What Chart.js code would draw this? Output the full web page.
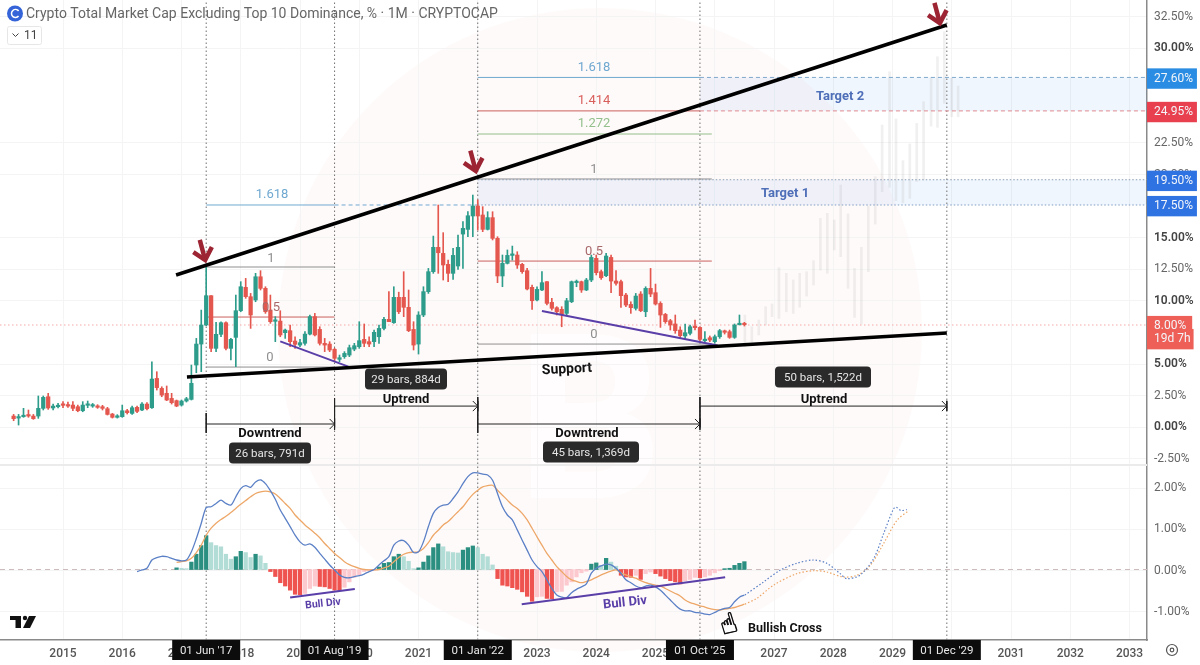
<!DOCTYPE html>
<html>
<head>
<meta charset="utf-8">
<title>Crypto Total Market Cap Excluding Top 10 Dominance</title>
<script src="https://cdn.jsdelivr.net/npm/chart.js@4"></script>
<style>
  html, body { margin: 0; padding: 0; background: #fff; }
  canvas { display: block; }
</style>
</head>
<body>
<canvas id="grafico" width="1200" height="665"></canvas>
<script>
// months are counted from Jan 2015 = 0
const firstCandleMonth = -10
const opens = [.79,.63,.74,.87,.79,.79,1.40,2.32,1.43,1.53,1.72,1.69,1.66,1.53,1.21,1.64,1.58,1.58,1.53,1.37,
  .95,.69,.74,1.21,1.00,1.48,1.27,1.74,1.45,3.77,2.98,2.59,2.19,2.01,1.66,1.98,2.11,4.83,6.49,8.00,
  10.32,6.15,7.26,8.18,6.15,7.02,9.13,10.98,10.24,9.98,11.82,10.90,9.18,8.29,8.31,7.39,7.55,6.73,6.41,6.55,
  7.28,8.66,7.65,6.55,6.49,6.07,5.28,5.49,5.62,6.09,6.28,6.86,6.68,6.68,7.07,7.73,8.45,8.18,10.19,
  10.19,9.40,7.65,6.49,8.79,10.64,12.22,14.15,13.67,12.80,12.09,12.67,15.20,15.57,16.63,17.42,16.71,15.57,16.50,14.86,
  11.88,12.88,13.51,13.54,12.80,12.30,10.98,9.98,10.77,11.43,9.79,9.37,9.24,8.92,9.84,11.35,11.43,10.77,11.56,13.28,
  12.22,11.90,13.35,11.48,11.43,10.37,9.63,9.32,10.45,9.05,10.90,10.56,9.71,8.84,8.34,8.08,7.60,7.13,7.34,7.86,
  7.81,6.76,6.99,6.68,7.07,7.52,7.47,7.02,8.02,8.13]
const highs = [.92,.92,1.40,1.27,.92,2.38,2.38,2.59,1.74,1.79,1.93,1.90,1.93,1.66,1.93,1.98,1.79,1.69,1.64,1.48,
  1.00,.90,1.66,1.32,1.58,1.58,1.85,1.85,5.09,4.30,3.11,3.17,2.59,2.06,2.06,2.27,4.83,6.94,9.18,12.56,
  10.32,8.21,8.26,8.26,6.94,10.37,11.43,11.69,10.50,12.09,12.30,11.03,10.37,8.66,9.13,7.68,8.00,7.07,6.86,7.47,
  8.79,8.92,7.86,6.94,6.68,6.15,5.62,5.89,6.41,6.55,8.26,8.08,7.07,7.60,8.00,8.60,10.64,11.03,10.60,
  12.22,10.77,8.26,9.05,11.03,12.48,15.04,17.50,15.31,13.14,14.07,15.12,16.18,16.97,18.29,17.90,17.37,16.97,16.97,14.99,
  13.54,13.94,14.25,13.80,12.88,12.48,11.16,11.03,12.22,11.43,10.11,9.45,9.45,10.11,11.48,11.56,11.48,11.69,13.54,13.54,
  12.35,13.67,13.54,12.30,11.56,10.50,9.84,10.50,10.64,11.03,12.48,11.24,9.84,8.92,8.45,8.79,7.86,8.08,8.00,8.39,
  7.86,7.47,7.13,7.21,7.65,7.60,7.60,8.08,8.79,8.21]
const lows = [.42,.08,.69,.69,.53,.61,1.27,1.32,1.27,1.43,1.45,1.48,1.21,1.13,1.13,1.45,1.48,1.40,1.27,.87,
  .63,.63,.69,.95,.92,1.06,1.21,1.27,1.40,2.85,2.32,2.01,1.74,1.53,1.58,1.90,2.06,4.22,4.30,7.94,
  5.89,5.89,7.07,6.02,5.23,4.70,9.05,10.11,7.73,9.84,10.77,8.92,8.13,6.68,7.07,6.94,6.28,6.15,6.28,6.41,
  7.21,7.13,6.41,5.89,5.89,5.09,5.09,5.36,5.49,5.96,6.15,6.28,6.28,6.28,6.55,7.60,8.26,8.13,8.90,
  8.66,7.47,6.02,5.70,8.66,10.50,12.09,12.09,11.56,11.43,11.61,12.40,12.48,14.99,14.99,15.52,15.39,15.52,14.73,11.35,
  11.03,12.83,13.14,12.48,12.09,10.77,9.24,9.90,10.72,9.58,9.18,8.79,7.86,8.79,9.77,11.03,10.58,10.72,11.43,11.96,
  11.61,11.82,10.56,11.16,9.40,9.45,8.92,9.18,9.05,8.66,10.24,9.58,7.81,8.13,7.60,7.34,6.99,6.94,7.21,7.60,
  6.68,6.68,6.68,6.55,6.94,7.28,6.94,6.94,8.00,7.92]
const closes = [.58,.74,.84,.79,.58,1.40,2.27,1.43,1.58,1.64,1.64,1.58,1.40,1.21,1.66,1.72,1.66,1.48,1.40,.92,
  .69,.79,1.21,1.06,1.45,1.16,1.74,1.37,3.72,3.04,2.45,2.06,1.85,1.58,1.98,2.16,3.38,6.49,8.00,10.32,
  6.15,7.26,8.18,6.15,6.86,9.13,11.03,10.24,8.79,11.82,10.90,9.05,8.26,8.39,7.21,7.60,6.68,6.47,6.60,7.28,
  8.66,7.21,6.55,6.41,6.02,5.36,5.41,5.75,6.20,6.36,6.76,6.55,6.49,7.42,7.73,8.45,8.26,10.19,9.05,
  9.40,7.55,6.41,8.79,10.64,12.22,14.15,13.72,12.75,12.09,13.51,14.15,15.65,16.65,17.42,16.63,15.57,16.50,14.86,11.88,
  12.88,13.51,13.57,12.75,12.22,10.85,9.92,10.82,11.35,9.71,9.32,9.05,8.84,9.92,11.43,11.43,10.77,11.56,13.35,12.14,
  11.74,13.46,11.48,11.30,10.32,9.58,9.37,10.29,9.13,10.90,10.45,9.66,8.79,8.26,8.00,7.55,7.15,7.39,7.86,7.79,
  6.86,6.86,6.81,7.07,7.55,7.42,7.02,8.00,8.13,8.02]

// the faded projection bars
const ghostMonths = [138.1,139.5,140.9,142.3,143.6,145.0,146.5,147.9,149.2,150.6,152.0,153.4,154.8,156.2,157.5,159.0,
  160.3,161.7,163.1,164.5,165.9,167.4,168.7,170.1,171.5,172.9,174.3,175.8,177.1,178.5,180.0,181.3]
const ghostHighs = [8.79,7.86,8.39,9.45,9.66,12.54,12.09,11.56,12.09,12.22,13.09,16.44,16.84,16.31,19.08,16.79,
  12.48,14.15,17.42,19.74,23.83,28.05,24.31,21.01,22.33,23.96,25.68,27.61,29.24,31.22,27.53,26.92]
const ghostLows = [6.28,6.68,7.21,8.00,8.66,8.52,9.05,8.92,9.40,10.29,11.16,12.35,12.09,13.94,13.41,10.90,
  8.60,8.08,12.22,15.99,18.55,18.90,17.84,17.68,18.03,19.35,19.48,23.75,23.65,25.55,24.49,24.49]

// MACD pane
const firstMacdMonth = 15
const macdLine = [-.05,-.01,.03,.23,.29,.32,.31,.27,.23,.21,.23,.43,.75,1.12,1.50,1.52,1.60,1.68,1.60,1.56,1.76,1.96,2.03,1.99,2.12,2.17,
  2.08,1.91,1.70,1.44,1.24,1.04,.83,.67,.59,.62,.54,.39,.25,.11,-.01,-.13,-.19,-.20,-.17,-.15,-.11,-.05,.00,.11,.21,.31,.59,.69,.70,.59,.41,.43,
  .67,1.04,1.36,1.50,1.56,1.58,1.72,1.88,2.08,2.25,2.34,2.34,2.31,2.29,2.16,1.84,1.52,1.32,1.20,.96,.71,.47,.23,.07,-.05,-.25,-.46,-.62,-.67,-.68,
  -.56,-.48,-.42,-.35,-.09,.03,.09,.13,.11,.03,-.09,-.25,-.32,-.40,-.44,-.40,-.38,-.42,-.50,-.62,-.74,-.86,-.96,-1.00,-1.00,-1.04,-1.05,-1.08,-1.09,
  -1.04,-.98,-.94,-.92,-.78,-.67,-.62]
const firstSignalMonth = 23
const signalLine = [.17,.19,.21,.27,.41,.59,.83,1.00,1.12,1.21,1.29,1.38,1.48,1.58,1.67,1.76,1.84,1.88,1.90,1.88,1.83,1.72,1.60,1.48,1.32,1.20,
  1.08,.98,.88,.77,.63,.51,.39,.29,.19,.12,.07,.03,.00,-.01,-.01,.00,.04,.08,.19,.29,.37,.41,.42,.43,.51,.65,.83,.95,1.08,1.16,1.28,1.40,1.52,1.68,
  1.82,1.92,2.00,2.03,2.04,1.92,1.80,1.68,1.56,1.48,1.36,1.20,1.00,.79,.59,.39,.23,.07,-.05,-.17,-.25,-.29,-.32,-.29,-.25,-.19,-.13,-.08,-.04,-.01,
  -.08,-.13,-.17,-.21,-.27,-.32,-.35,-.38,-.40,-.46,-.52,-.58,-.64,-.74,-.80,-.84,-.88,-.91,-.95,-.97,-.98,-.96,-.94,-.92,-.88,-.84]
const firstHistMonth = 23
const histogram = [.04,.03,.02,.18,.37,.58,.82,.65,.58,.55,.37,.25,.31,.44,.41,.29,.37,.33,.15,-.05,-.17,-.32,-.40,-.50,-.60,-.61,-.58,-.46,-.40,-.41,-.42,-.46,-.50,-.51,-.43,-.30,-.19,-.13,-.05,-.03,-.02,
  .06,.15,.17,.31,.37,.31,.20,.02,.04,.18,.33,.53,.62,.55,.43,.41,.40,.47,.53,.57,.53,.37,.31,.11,-.22,-.38,-.40,-.44,-.48,-.54,-.65,-.77,-.66,-.65,-.70,-.71,-.54,-.53,-.38,-.30,-.18,-.08,-.04,
  .13,.16,.10,.27,.18,.08,-.14,-.18,-.19,-.14,-.24,-.10,-.06,-.10,-.16,-.22,-.27,-.30,-.35,-.27,-.24,-.19,-.20,-.18,-.14,-.08,-.03,.02,.03,.10,.15,.19]
const macdForecastMonths = [138.1,141.9,145.2,148.6,152.0,154.7,157.4,158.7,161.4,164.2,166.2,168.2,168.7,169.7,170.9]
const macdForecast = [-.62,-.30,-.02,.15,.23,.15,-.10,-.22,-.14,.27,.87,1.47,1.51,1.43,1.45]
const signalForecastMonths = [138.1,140.5,143.9,148.6,152.0,154.7,158.0,160.8,163.5,166.2,168.9,171.3]
const signalForecast = [-.84,-.70,-.38,-.10,-.03,-.06,-.18,-.14,.10,.63,1.19,1.43]

// axis labels
const yearMonths = [0,12,24,36,48,60,72,84,96,108,120,132,144,156,168,180,192,204,216]
const yearLabels = ['2015','2016','2017','2018','2019','2020','2021','2022','2023','2024','2025','2026','2027','2028','2029','2030','2031','2032','2033']
const priceTicks = [32.5,30,22.5,20,15,12.5,10,5,2.5,0,-2.5]
const boldTicks = [30,15,10,5,0]
const macdTicks = [2,1,0,-1]
const priceTags = [27.6,24.95,19.5,17.5,8]
const tagColors = ['#2a8ce2','#e8404f','#2f72e2','#2f72e2','#ee5f58']

// chart geometry
const monthMin = -12.76, monthMax = 219.54
const priceMin = -16.94, priceMax = 33.73
const macdMin = -1.707, macdMax = 13.79
const macdAsPrice = v => (v - macdMin) / (macdMax - macdMin) * (priceMax - priceMin) + priceMin
// Roboto sits a little high on a middle baseline, the tick labels are moved down by this much
const labelNudge = .09

const GREEN = '#2d9c8b', RED = '#e4574e', FIB_GRAY = '#8f8f8f', FIB_RED = '#c9605c', FIB_BLUE = '#6fa8d0', FIB_GREEN = '#93c08c'
const PURPLE = '#5a3fa8', DOT = '#6f6f6f', MAROON = '#9c2433'

const axisTicks = []
priceTicks.forEach(v => axisTicks.push({ value: v, text: v.toFixed(2) + '%', bold: boldTicks.includes(v) }))
macdTicks.forEach(v => axisTicks.push({ value: macdAsPrice(v), text: v.toFixed(2) + '%', macd: true }))
priceTags.forEach((v, i) => axisTicks.push({ value: v, text: v.toFixed(2) + '%', tag: tagColors[i], pad: v === 8 ? 6 : 4 }))
axisTicks.push({ value: 6.97, text: '19d 7h', tag: tagColors[4], pad: 3 })
const tickAt = c => axisTicks[c.index] || {}

const datasets = []
function seg(points, color, width, dash, order, axis) {
  datasets.push({
    type: 'line',
    data: points.map(p => ({ x: p[0], y: p[1] })),
    borderColor: color,
    borderWidth: width,
    borderDash: dash || [],
    pointRadius: 0,
    order: order,
    yAxisID: axis || 'y',
    borderCapStyle: 'butt'
  })
}
function band(from, top, bottom, color) {
  datasets.push({
    type: 'line',
    data: [{ x: from, y: top }, { x: monthMax, y: top }],
    borderWidth: 0,
    pointRadius: 0,
    fill: { value: bottom },
    backgroundColor: color,
    order: 60
  })
}

// black trend lines
seg([[22.9, 11.96], [179, 31.75]], '#000', 3.6, null, 1)
seg([[25.1, 3.88], [179, 7.36]], '#000', 3.6, null, 1)
// red arrows
function redArrow(m, v) {
  seg([[m - 1.1, v + 1.6], [m, v]], MAROON, 4.5, null, 0)
  seg([[m - 2.4, v + .63], [m, v], [m + 1.35, v + 1.03]], MAROON, 4.5, null, 0)
}
redArrow(28.8, 13.14)
redArrow(83.6, 20.2)
redArrow(177.6, 31.9)
// purple divergences
seg([[44.0, 6.7], [57.8, 4.7]], PURPLE, 2, null, 2)
seg([[97.0, 9.1], [132.6, 6.37]], PURPLE, 2, null, 2)
seg([[46.0, -.68], [59.1, -.47]], PURPLE, 2, null, 2, 'yMacd')
seg([[92.9, -.84], [134.1, -.19]], PURPLE, 2, null, 2, 'yMacd')

// fib levels
seg([[29, 12.59], [55, 12.59]], FIB_GRAY, 1, null, 40)
seg([[29, 8.63], [55, 8.63]], FIB_RED, 1, null, 40)
seg([[29, 4.67], [55, 4.67]], FIB_GRAY, 1, null, 40)
seg([[29, 17.5], [55, 17.5]], FIB_BLUE, 1, null, 40)
seg([[55, 17.5], [84, 17.5]], FIB_BLUE, 1, [4, 3], 40)
seg([[84, 17.5], [monthMax, 17.5]], '#7d9cc4', 1, [1.5, 2], 40)
seg([[84, 19.5], [monthMax, 19.5]], '#8a9db5', 1, [1.5, 2], 40)
seg([[84, 19.56], [131.4, 19.56]], FIB_GRAY, 1, null, 40)
seg([[84, 13.06], [131.4, 13.06]], FIB_RED, 1, null, 40)
seg([[84, 6.49], [131.4, 6.49]], FIB_GRAY, 1, null, 40)
seg([[84, 23.12], [131.4, 23.12]], FIB_GREEN, 1, null, 40)
seg([[84, 24.95], [129, 24.95]], FIB_RED, 1, null, 40)
seg([[129, 24.95], [monthMax, 24.95]], '#e08a90', 1, [4, 3], 40)
seg([[84, 27.6], [129, 27.6]], FIB_BLUE, 1, null, 40)
seg([[129, 27.6], [monthMax, 27.6]], '#7fa9cc', 1, [4, 3], 40)
band(84, 19.5, 17.5, 'rgba(70,140,230,0.08)')
band(129, 27.6, 24.95, 'rgba(70,140,230,0.08)')

// current price line, dotted dates, pane separator and macd zero
seg([[monthMin, 8], [monthMax, 8]], '#f2a9a9', 1, [1.5, 2.5], 55)
;[29, 55, 84, 129, 179].forEach(m => seg([[m, priceMin], [m, priceMax]], DOT, 1, [1.5, 2.5], 50))
seg([[monthMin, -3.09], [monthMax, -3.09]], '#ebebeb', 2, null, 70)
seg([[monthMin, 0], [monthMax, 0]], '#cdbcbc', 1, [5, 4], 45, 'yMacd')

// date range arrows
function measure(from, to, level, capsFrom, capsTo) {
  seg([[from, level], [to, level]], '#222', 1, null, 3)
  seg([[from, capsFrom[0]], [from, capsFrom[1]]], '#222', 1, null, 3)
  seg([[to, capsTo[0]], [to, capsTo[1]]], '#222', 1, null, 3)
  seg([[to - 1, level + .4], [to, level], [to - 1, level - .4]], '#222', 1, null, 3)
}
measure(29, 55, .16, [1.03, -.55], [.6, -.3])
measure(55, 84, 1.58, [2.2, -.08], [2, 1.2])
measure(84, 129, .16, [2.3, -.55], [.6, -.3])
measure(129, 179, 1.58, [2.3, -.08], [2, 1.2])

// candles: thin bar for the wick, thick bar for the body
const candleMonths = opens.map((_, i) => firstCandleMonth + i)
const candleColors = opens.map((o, i) => closes[i] >= o ? GREEN : RED)
datasets.push({
  type: 'bar', order: 11, barThickness: 3.6, minBarLength: 1.5, grouped: false,
  data: candleMonths.map((m, i) => ({ x: m, y: [opens[i], closes[i]] })),
  backgroundColor: candleColors
})
datasets.push({
  type: 'bar', order: 12, barThickness: 1, grouped: false,
  data: candleMonths.map((m, i) => ({ x: m, y: [lows[i], highs[i]] })),
  backgroundColor: candleColors
})
datasets.push({
  type: 'bar', order: 65, barThickness: 2, grouped: false,
  data: ghostMonths.map((m, i) => ({ x: m, y: [ghostLows[i], ghostHighs[i]] })),
  backgroundColor: 'rgba(190,185,185,0.22)'
})

// macd
const histColors = histogram.map((v, i) => {
  const prev = i ? histogram[i - 1] : 0
  if (v >= 0) return v > prev ? '#2a8f80' : '#b2dcd6'
  return v < prev ? '#ef5350' : '#fcc9cf'
})
datasets.push({
  type: 'bar', order: 30, barThickness: 3.6, grouped: false, yAxisID: 'yMacd',
  data: histogram.map((v, i) => ({ x: firstHistMonth + i, y: v })),
  backgroundColor: histColors
})
function macdCurve(points, color, dash, order) {
  datasets.push({
    type: 'line', yAxisID: 'yMacd', order: order, pointRadius: 0,
    borderColor: color, borderWidth: dash ? 1.2 : 1.3, borderDash: dash || [], tension: .3,
    data: points
  })
}
macdCurve(macdLine.map((v, i) => ({ x: firstMacdMonth + i, y: v })), '#5b80c6', null, 20)
macdCurve(signalLine.map((v, i) => ({ x: firstSignalMonth + i, y: v })), '#eda768', null, 21)
macdCurve(macdForecast.map((v, i) => ({ x: macdForecastMonths[i], y: v })), '#5b80c6', [1.5, 2], 20)
macdCurve(signalForecast.map((v, i) => ({ x: signalForecastMonths[i], y: v })), '#eda768', [1.5, 2], 21)

// page text: [text, x, y, font, colour, rotation in degrees]
const FONT = 'Roboto, "Liberation Sans", sans-serif'
const notes = [
  ['1.618', 272, 194.5, '13px ' + FONT, FIB_BLUE],
  ['1', 271, 258.5, '13px ' + FONT, FIB_GRAY],
  ['0.5', 271, 307.5, '13px ' + FONT, '#a8686a'],
  ['0', 270, 357.5, '13px ' + FONT, FIB_GRAY],
  ['1.618', 594, 67.5, '13px ' + FONT, FIB_BLUE],
  ['1.414', 594, 100.5, '13px ' + FONT, '#d8605c'],
  ['1.272', 594, 123.5, '13px ' + FONT, FIB_GREEN],
  ['1', 594, 169.5, '13px ' + FONT, FIB_GRAY],
  ['0.5', 594, 251.5, '13px ' + FONT, '#a8686a'],
  ['0', 594, 334.5, '13px ' + FONT, FIB_GRAY],
  ['Target 1', 785, 193.5, 'bold 13px ' + FONT, '#4f6fb8'],
  ['Target 2', 840, 96.5, 'bold 13px ' + FONT, '#4f6fb8'],
  ['Downtrend', 270, 433.5, 'bold 13px ' + FONT, '#111'],
  ['Uptrend', 406, 399.5, 'bold 13px ' + FONT, '#111'],
  ['Downtrend', 587, 433.5, 'bold 13px ' + FONT, '#111'],
  ['Uptrend', 824, 399.5, 'bold 13px ' + FONT, '#111'],
  ['Support', 567, 369.5, 'bold 14px ' + FONT, '#111', -3],
  ['Bull Div', 323, 604, 'bold 10.5px ' + FONT, PURPLE, -6],
  ['Bull Div', 625, 603, 'bold 13px ' + FONT, PURPLE, -6],
  ['Bullish Cross', 785, 629, 'bold 12.5px ' + FONT, '#111']
]
const bubbles = [
  ['29 bars, 884d', 406, 379, 82],
  ['50 bars, 1,522d', 823, 377, 96],
  ['26 bars, 791d', 270, 453, 82],
  ['45 bars, 1,369d', 591, 452, 96]
]
const dateTags = [["01 Jun '17", 29], ["01 Aug '19", 55], ["01 Jan '22", 84], ["01 Oct '25", 129], ["01 Dec '29", 179]]

const overlay = {
  id: 'overlay',
  beforeDraw(chart) {
    // watermark behind everything
    const c = chart.ctx
    c.save()
    c.fillStyle = 'rgba(240,110,80,0.032)'
    c.beginPath()
    c.arc(600, 330, 322, 0, Math.PI * 2)
    c.fill()
    c.fillStyle = 'rgba(255,255,255,0.75)'
    c.font = 'bold 230px ' + FONT
    c.textAlign = 'center'
    c.textBaseline = 'middle'
    c.fillText('B', 590, 440)
    c.restore()
  },
  afterDraw(chart) {
    const c = chart.ctx
    const x = chart.scales.x
    c.save()
    c.textBaseline = 'middle'
    c.textAlign = 'center'
    notes.forEach(n => {
      c.save()
      c.translate(n[1], n[2])
      if (n[5]) c.rotate(n[5] * Math.PI / 180)
      c.font = n[3]
      c.fillStyle = n[4]
      c.fillText(n[0], 0, 0)
      c.restore()
    })
    bubbles.forEach(b => {
      c.fillStyle = '#2a2a2a'
      c.beginPath()
      c.roundRect(b[1] - b[3] / 2, b[2] - 10.5, b[3], 21, 4)
      c.fill()
      c.fillStyle = '#e6e6e6'
      c.font = '11.5px ' + FONT
      c.fillText(b[0], b[1], b[2] + 1.5)
    })
    dateTags.forEach(t => {
      const px = x.getPixelForValue(t[1])
      c.fillStyle = '#0c0c0c'
      c.fillRect(px - 34, 640, 68, 20)
      c.fillStyle = '#e8e8e8'
      c.font = '11.5px ' + FONT
      c.fillText(t[0], px, 651)
    })
    // hand next to "Bullish Cross"
    c.strokeStyle = '#111'
    c.lineWidth = .8
    c.font = '28px "DejaVu Sans"'
    c.save()
    c.translate(729, 626)
    c.rotate(-.3)
    c.strokeText('\u261D', 0, 0)
    c.fillStyle = '#111'
    c.fillText('\u261D', 0, 0)
    c.restore()
    // header
    c.textAlign = 'left'
    c.fillStyle = '#666'
    c.font = '14px ' + FONT
    c.fillText('Crypto Total Market Cap Excluding Top 10 Dominance, % \u00B7 1M \u00B7 CRYPTOCAP', 26, 14.5)
    c.fillStyle = '#3564d8'
    c.beginPath()
    c.arc(15, 13.5, 8, 0, Math.PI * 2)
    c.fill()
    c.strokeStyle = '#fff'
    c.lineWidth = 1.5
    c.beginPath()
    c.arc(15.5, 13.5, 4, .7, Math.PI * 2 - .7)
    c.stroke()
    c.strokeStyle = '#e6e6e6'
    c.lineWidth = 1
    c.beginPath()
    c.roundRect(7.5, 26.5, 34, 18, 2)
    c.stroke()
    c.strokeStyle = '#444'
    c.beginPath()
    c.moveTo(12.5, 33.5)
    c.lineTo(15.5, 36.5)
    c.lineTo(18.5, 33.5)
    c.stroke()
    c.fillStyle = '#444'
    c.font = '12px ' + FONT
    c.fillText('11', 24, 36)
    // tradingview mark and the settings icon
    c.fillStyle = '#111'
    c.fillRect(10, 616, 11, 4)
    c.fillRect(15.5, 616, 5.5, 12)
    c.beginPath()
    c.arc(25, 618, 2.2, 0, Math.PI * 2)
    c.fill()
    c.beginPath()
    c.moveTo(29, 616)
    c.lineTo(36, 616)
    c.lineTo(30, 628)
    c.lineTo(23, 628)
    c.closePath()
    c.fill()
    c.strokeStyle = '#555'
    c.lineWidth = 1.2
    c.beginPath()
    c.arc(1172, 650, 5.5, 0, Math.PI * 2)
    c.stroke()
    c.beginPath()
    c.arc(1172, 650, 1.8, 0, Math.PI * 2)
    c.stroke()
    c.restore()
  }
}

const ctx = document.getElementById('grafico').getContext('2d')
new Chart(ctx, {
  type: 'bar',
  data: { datasets: datasets },
  plugins: [overlay],
  options: {
    responsive: false,
    animation: false,
    layout: { padding: 0 },
    plugins: { legend: { display: false }, tooltip: { enabled: false } },
    scales: {
      x: {
        type: 'linear',
        min: monthMin,
        max: monthMax,
        offset: false,
        grid: { offset: false, color: '#f4f4f4', drawTicks: false },
        border: { color: '#8a8a8a', width: 1.5 },
        afterBuildTicks: s => { s.ticks = yearMonths.map(m => ({ value: m })) },
        afterFit: s => { s.height = 25; s.paddingLeft = 0; s.paddingRight = 0 },
        ticks: {
          autoSkip: false,
          maxRotation: 0,
          padding: 7,
          color: '#555',
          font: { family: 'Roboto', size: 12, weight: '500' },
          callback: (v, i) => yearLabels[i]
        }
      },
      y: {
        type: 'linear',
        position: 'right',
        min: priceMin,
        max: priceMax,
        grid: {
          drawTicks: false,
          color: c => tickAt(c).tag ? 'transparent' : '#f4f4f4'
        },
        border: { color: '#8a8a8a', width: 1.5 },
        afterBuildTicks: s => { s.ticks = axisTicks.map(t => ({ value: t.value - labelNudge })) },
        afterFit: s => { s.width = 53; s.paddingTop = 0; s.paddingBottom = 0 },
        ticks: {
          autoSkip: false,
          padding: 7,
          callback: (v, i) => axisTicks[i].text,
          font: c => ({ family: 'Roboto', size: 12, weight: tickAt(c).bold ? '600' : '400' }),
          color: c => {
            const t = tickAt(c)
            if (t.tag) return '#f4f6fa'
            return t.bold ? '#444' : '#666'
          },
          showLabelBackdrop: c => !!tickAt(c).tag,
          backdropColor: c => tickAt(c).tag || 'transparent',
          backdropPadding: { left: 7, right: c => tickAt(c).pad || 0, top: 3, bottom: 3 }
        }
      },
      yMacd: { type: 'linear', display: false, min: macdMin, max: macdMax }
    }
  }
})
</script>
</body>
</html>
